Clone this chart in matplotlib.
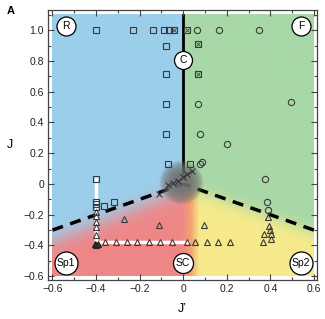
import numpy as np
import matplotlib
matplotlib.use('Agg')
import matplotlib.pyplot as plt
from matplotlib.colors import to_rgb, LinearSegmentedColormap

plt.rcParams['font.family'] = ['Liberation Sans', 'DejaVu Sans']

# phase points (J', J)
sq_x = [-0.4, -0.23, -0.137, -0.09, -0.065, -0.08, -0.08, -0.08, -0.08, -0.072, 0.032,
        -0.4, -0.4, -0.4, -0.4, -0.362, -0.317]
sq_y = [1.0, 1.0, 1.0, 1.0, 1.0, 0.9, 0.714, 0.523, 0.328, 0.133, 0.133,
        0.031, -0.117, -0.132, -0.149, -0.145, -0.12]
xsq_x = [-0.04, 0.016, 0.07, 0.07]
xsq_y = [1.0, 1.0, 0.907, 0.714]
ci_x = [0.065, 0.165, 0.35, 0.07, 0.076, 0.203, 0.496, 0.078, 0.088, 0.375, 0.385, 0.388]
ci_y = [1.0, 1.0, 1.0, 0.52, 0.328, 0.257, 0.534, 0.13, 0.14, 0.03, -0.119, -0.17]
tri_x = [-0.4, -0.4, -0.4, -0.4, -0.4,
         -0.36, -0.31, -0.26, -0.21, -0.156, -0.105, -0.05, 0.018, 0.056, 0.111, 0.162, 0.216,
         -0.273, -0.113, 0.096,
         0.39, 0.392, 0.398, 0.37, 0.404, 0.403, 0.365]
tri_y = [-0.18, -0.21, -0.247, -0.28, -0.333,
         -0.378, -0.378, -0.378, -0.378, -0.378, -0.378, -0.378, -0.378, -0.378, -0.378, -0.378, -0.378,
         -0.225, -0.27, -0.268,
         -0.216, -0.274, -0.298, -0.328, -0.328, -0.36, -0.375]
ftri_x = [-0.405, -0.398, -0.392]
ftri_y = [-0.388, -0.395, -0.39]
cr_x = [-0.113, -0.069, -0.046, -0.023, 0.0, 0.018, 0.041]
cr_y = [-0.062, -0.008, 0.005, 0.02, 0.044, 0.063, 0.085]

labels = ['R', 'F', 'C', 'SC', 'Sp1', 'Sp2']
lab_x = [-0.54, 0.54, 0.0, 0.0, -0.54, 0.54]
lab_y = [1.026, 1.026, 0.805, -0.515, -0.515, -0.515]
lab_d = [19, 19, 18, 20, 23, 23]   # circle diameters in px

blob_x, blob_y = -0.008, 0.01

fig = plt.figure(figsize=(3.25, 3.19), dpi=100)
ax = fig.add_axes([0.148, 0.122, 0.828, 0.846])

# background phase colours
blue = np.array(to_rgb('#9BCFEC'))
green = np.array(to_rgb('#A8D8A8'))
bot = LinearSegmentedColormap.from_list('bot', ['#F08686', '#F08686', '#F2A070', '#F6EA8C', '#F6EA8C'])
gx = np.linspace(-0.6, 0.6, 600)
gy = np.linspace(-0.6, 1.1, 850)
X, Y = np.meshgrid(gx, gy)
sig = lambda v: 1.0 / (1.0 + np.exp(-v))
left = sig(-X / 0.002)
top_col = left[..., None] * blue + (1 - left[..., None]) * green
t = sig((X - 0.035) / 0.038)
bot_col = bot(t)[..., :3]
bline = np.where(X < 0, 0.5 * X - 0.04 + 0.06 * X, -0.5 * X - 0.02)
wtop = sig((Y - bline) / np.where(X < 0, 0.035, 0.025))
img = wtop[..., None] * top_col + (1 - wtop[..., None]) * bot_col
ax.imshow(img, origin='lower', extent=(-0.6, 0.6, -0.6, 1.1), aspect='auto', zorder=0,
          interpolation='bilinear')

# boundaries
ax.plot([0, 0], [0.06, 1.1], color='black', lw=2, zorder=1)
ax.plot([-0.6, 0], [-0.3, 0], color='black', lw=2.5, ls=(0, (3.2, 2.2)), zorder=1)
ax.plot([0.6, 0], [-0.3, 0], color='black', lw=2.5, ls=(0, (3.2, 2.2)), zorder=1)

# soft grey blob at the centre: stacked translucent discs
for rad in range(22, 7, -1):
    d = 2 * rad * 0.72
    ax.scatter([blob_x], [blob_y], s=d ** 2, color='#737373', alpha=0.15,
               linewidths=0, zorder=2)

# white guide lines
ax.plot([-0.4, -0.4], [0.03, -0.38], color='white', lw=2.5, zorder=2)
ax.plot([-0.4, 0.02], [-0.38, -0.38], color='white', lw=2.5, zorder=2)

ec = '#3a3a3a'
ax.plot(sq_x, sq_y, 's', ms=3.8, mfc='none', mec=ec, mew=0.8, zorder=3)
ax.plot(xsq_x, xsq_y, 's', ms=3.8, mfc='none', mec=ec, mew=0.8, zorder=3)
ax.plot(xsq_x, xsq_y, 'x', ms=3.0, mec=ec, mew=0.6, zorder=3)
ax.plot(ci_x, ci_y, 'o', ms=4.5, mfc='none', mec=ec, mew=0.8, zorder=3)
ax.plot(tri_x, tri_y, '^', ms=5.0, mfc='none', mec=ec, mew=0.8, zorder=3)
ax.plot(ftri_x, ftri_y, '^', ms=5.0, mfc='#333333', mec='#222222', mew=0.8, zorder=3)
ax.plot(cr_x, cr_y, 'x', ms=5.0, mec='#333333', mew=0.8, zorder=3)

for lab, lx, ly, dd in zip(labels, lab_x, lab_y, lab_d):
    ax.scatter([lx], [ly], s=(dd * 0.72) ** 2, facecolor='white', edgecolor='black',
               linewidths=0.9, zorder=4)
    ax.text(lx, ly, lab, ha='center', va='center', fontsize=7.5, zorder=5)

ax.set_xlim(-0.62, 0.615)
ax.set_ylim(-0.625, 1.13)
ax.set_xticks(np.arange(-0.6, 0.61, 0.2))
ax.set_yticks(np.arange(-0.6, 1.01, 0.2))
ax.set_xticks(np.arange(-0.6, 0.61, 0.1), minor=True)
ax.set_yticks(np.arange(-0.6, 1.11, 0.1), minor=True)
ax.set_xticklabels(['\u22120.6', '\u22120.4', '\u22120.2', '0', '0.2', '0.4', '0.6'])
ax.set_yticklabels(['\u22120.6', '\u22120.4', '\u22120.2', '0', '0.2', '0.4', '0.6', '0.8', '1.0'])
ax.tick_params(which='both', direction='in', top=True, right=True, labelsize=7.5,
               color='#444444', width=0.8, labelcolor='#222222')
ax.tick_params(which='major', length=4, pad=3)
ax.tick_params(which='minor', length=2.5)
for s in ax.spines.values():
    s.set_color('#444444')
    s.set_linewidth(0.9)

ax.set_xlabel('J\u2019', fontsize=9, labelpad=6)
ax.set_ylabel('J', fontsize=9, rotation=0, labelpad=10, va='center')
fig.text(0.022, 0.965, 'A', fontsize=8, fontweight='bold', ha='left', va='center')

fig.savefig('out.png', dpi=100)
